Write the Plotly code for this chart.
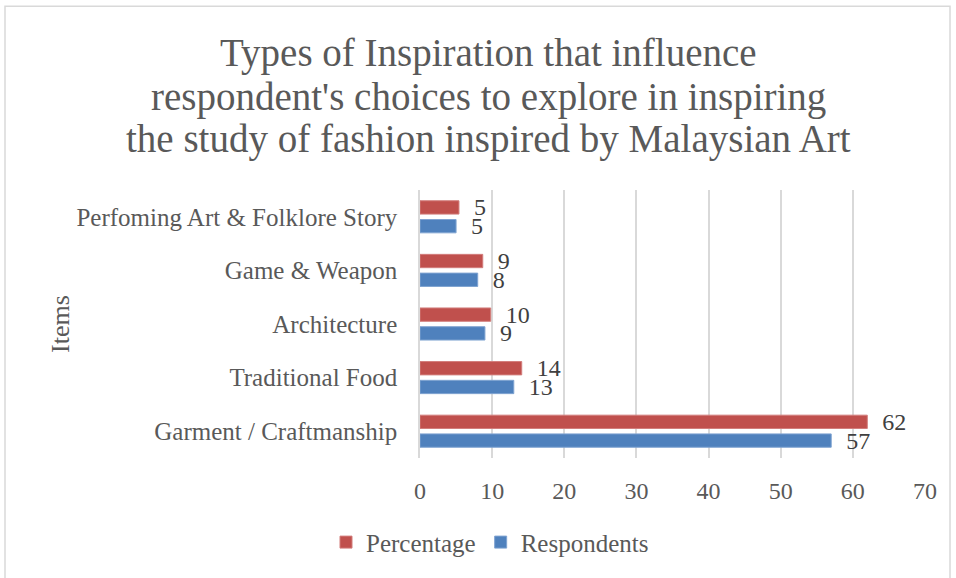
import plotly.graph_objects as go

categories = ["Garment / Craftmanship", "Traditional Food", "Architecture",
              "Game & Weapon", "Perfoming Art & Folklore Story"]
respondents = [57, 13, 9, 8, 5]
percentage = [62.0, 14.1, 9.8, 8.7, 5.4]
x_ticks = [0, 10, 20, 30, 40, 50, 60, 70]
title_lines = ["Types of Inspiration that influence",
               "respondent's choices to explore in inspiring",
               "the study of fashion inspired by Malaysian Art"]

FONT = "Liberation Serif"
GREY = "#595959"
LBL = "#404040"
PAD = "\u00a0\u00a0"

fig = go.Figure()
fig.add_trace(go.Bar(
    y=categories, x=respondents, orientation="h", name="Respondents",
    marker=dict(color="#4F81BD", line=dict(color="#7FA3D1", width=1)),
    texttemplate=PAD + "%{x:.0f}", textposition="outside", constraintext="none",
    textfont=dict(family=FONT, size=24, color=LBL), cliponaxis=False,
))
fig.add_trace(go.Bar(
    y=categories, x=percentage, orientation="h", name="Percentage",
    marker=dict(color="#C0504D", line=dict(color="#D27D7B", width=1)),
    texttemplate=PAD + "%{x:.0f}", textposition="outside", constraintext="none",
    textfont=dict(family=FONT, size=24, color=LBL), cliponaxis=False,
))

L, R, T, B = 420, 31, 190, 118
W, H = 956, 578
pw, ph = W - L - R, H - T - B

def px(x):
    return (x - L) / pw

def py(y):
    return (H - B - y) / ph

annotations = []
for txt, yc in zip(title_lines, [52, 96, 139]):
    annotations.append(dict(text=txt, xref="paper", yref="paper", x=px(488), y=py(yc),
                            xanchor="center", yanchor="middle", showarrow=False,
                            font=dict(family=FONT, size=39, color=GREY)))
annotations.append(dict(text="Items", xref="paper", yref="paper", x=px(60), y=py(325),
                        xanchor="center", yanchor="middle", showarrow=False, textangle=-90,
                        font=dict(family=FONT, size=26, color=GREY)))

fig.update_layout(
    width=W, height=H,
    margin=dict(l=L, r=R, t=T, b=B),
    paper_bgcolor="white", plot_bgcolor="white",
    barmode="group", bargap=0.3, bargroupgap=0.29,
    font=dict(family=FONT, color=GREY),
    xaxis=dict(
        range=[0, 70], tickvals=x_ticks, showgrid=True, gridcolor="#D9D9D9", gridwidth=1.5,
        zeroline=False, showline=False, ticks="",
        tickfont=dict(family=FONT, size=24, color=GREY), ticklabelstandoff=16,
    ),
    yaxis=dict(
        categoryorder="array", categoryarray=categories,
        showline=True, linecolor="#D9D9D9", linewidth=1.5, ticks="",
        tickfont=dict(family=FONT, size=25, color=GREY), ticklabelstandoff=16,
    ),
    legend=dict(
        orientation="h", traceorder="reversed", x=px(490), xanchor="center",
        y=py(545), yanchor="middle", itemwidth=30,
        font=dict(family=FONT, size=25, color=GREY),
    ),
    annotations=annotations,
    shapes=[dict(type="rect", xref="paper", yref="paper",
                 x0=px(5), x1=px(950), y0=py(590), y1=py(5),
                 line=dict(color="#D9D9D9", width=1.5), layer="below")],
)

fig.write_html("out.html", config={"displayModeBar": False},
               post_script="document.body.style.margin='0';")
